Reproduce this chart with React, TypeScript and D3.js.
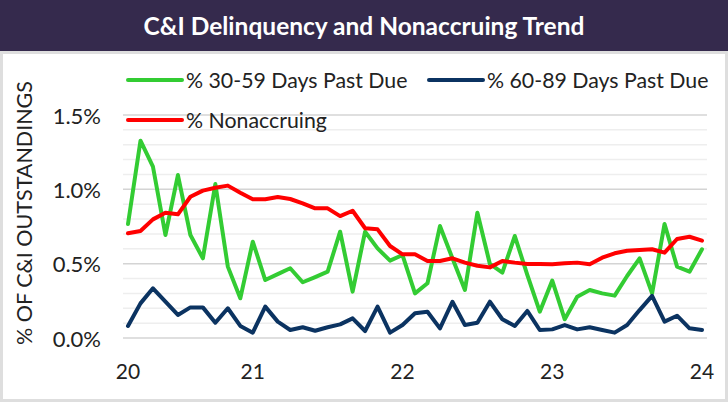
import React from "react";
import * as d3 from "d3";

const months: string[] = [
  "2020-03","2020-04","2020-05","2020-06","2020-07","2020-08","2020-09","2020-10","2020-11","2020-12",
  "2021-01","2021-02","2021-03","2021-04","2021-05","2021-06","2021-07","2021-08","2021-09","2021-10","2021-11","2021-12",
  "2022-01","2022-02","2022-03","2022-04","2022-05","2022-06","2022-07","2022-08","2022-09","2022-10","2022-11","2022-12",
  "2023-01","2023-02","2023-03","2023-04","2023-05","2023-06","2023-07","2023-08","2023-09","2023-10","2023-11","2023-12",
  "2024-01",
];

const pastDue30: number[] = [
  0.767, 1.327, 1.152, 0.693, 1.096, 0.693, 0.536, 1.036, 0.48, 0.267,
  0.648, 0.39, 0.43, 0.469, 0.375, 0.41, 0.446, 0.715, 0.312, 0.715, 0.603, 0.52,
  0.558, 0.30, 0.368, 0.753, 0.536, 0.323, 0.843, 0.498, 0.44, 0.686, 0.424, 0.177,
  0.386, 0.126, 0.278, 0.323, 0.30, 0.285, 0.417, 0.536, 0.30, 0.767, 0.48, 0.446,
  0.597,
];

const pastDue60: number[] = [
  0.081, 0.233, 0.334, 0.244, 0.155, 0.206, 0.206, 0.103, 0.2, 0.081,
  0.036, 0.211, 0.11, 0.054, 0.072, 0.049, 0.072, 0.092, 0.132, 0.047, 0.211, 0.036,
  0.087, 0.166, 0.177, 0.065, 0.244, 0.087, 0.103, 0.244, 0.126, 0.081, 0.182, 0.054,
  0.058, 0.087, 0.058, 0.072, 0.054, 0.036, 0.087, 0.188, 0.283, 0.11, 0.15, 0.065,
  0.054,
];

const nonaccruing: number[] = [
  0.704, 0.72, 0.798, 0.843, 0.832, 0.95, 0.991, 1.011, 1.025, 0.977,
  0.933, 0.933, 0.948, 0.935, 0.906, 0.872, 0.872, 0.82, 0.856, 0.738, 0.731, 0.619,
  0.563, 0.563, 0.518, 0.518, 0.536, 0.507, 0.486, 0.475, 0.518, 0.507, 0.498, 0.498,
  0.496, 0.502, 0.507, 0.496, 0.54, 0.57, 0.587, 0.592, 0.597, 0.574, 0.666, 0.681,
  0.655,
];

const xTickMonths: string[] = ["2020-03", "2021-01", "2022-01", "2023-01", "2024-01"];
const xTickLabels: string[] = ["20", "21", "22", "23", "24"];
const yTicks: number[] = [0, 0.5, 1.0, 1.5];
const gridValues: number[] = d3.range(0, 16).map((d) => d / 10);

const seriesNames: string[] = ["% 30-59 Days Past Due", "% 60-89 Days Past Due", "% Nonaccruing"];
const seriesColors: string[] = ["#33CC33", "#0B3361", "#FF0000"];

const W = 728;
const H = 402;
const FONT = "Lato, 'Open Sans', sans-serif";

export default function App() {
  const x = d3.scalePoint<string>().domain(months).range([128, 702]);
  const y = d3.scaleLinear().domain([0, 1.5]).range([338, 115]);
  const line = d3
    .line<number>()
    .x((_, i) => x(months[i]) as number)
    .y((d) => y(d));

  const seriesData = [pastDue30, pastDue60, nonaccruing];
  const drawOrder = [0, 2, 1];

  return (
    <div style={{ position: "absolute", left: 0, top: 0 }}>
      <svg width={W} height={H} style={{ display: "block" }}>
        <rect x={0} y={0} width={W} height={H} fill="#ffffff" />
        <rect x={1.5} y={52.5} width={W - 3} height={H - 54} fill="#ffffff" stroke="#DEDEDE" strokeWidth={3} />
        <rect x={0} y={0} width={W} height={51} fill="#352A4D" />
        <text
          x={W / 2}
          y={25}
          textAnchor="middle"
          dominantBaseline="central"
          fill="#ffffff"
          fontFamily={FONT}
          fontWeight="bold"
          fontSize={24.5}
        >
          C&amp;I Delinquency and Nonaccruing Trend
        </text>

        {gridValues.map((g) => {
          const major = Math.abs(g * 2 - Math.round(g * 2)) < 1e-6;
          return (
            <line
              key={g}
              x1={123}
              x2={707}
              y1={y(g)}
              y2={y(g)}
              stroke={major ? "#D4D4D4" : "#EEEEEE"}
              strokeWidth={1.5}
            />
          );
        })}

        {yTicks.map((t) => (
          <text
            key={t}
            x={101}
            y={y(t)}
            textAnchor="end"
            dominantBaseline="central"
            fontFamily={FONT}
            fontSize={22}
            fill="#222"
          >
            {t.toFixed(1) + "%"}
          </text>
        ))}

        {xTickMonths.map((m, i) => (
          <text
            key={m}
            x={x(m) as number}
            y={370}
            textAnchor="middle"
            dominantBaseline="central"
            fontFamily={FONT}
            fontSize={21}
            fill="#222"
          >
            {xTickLabels[i]}
          </text>
        ))}

        <text
          transform={`translate(24, 213) rotate(-90)`}
          textAnchor="middle"
          dominantBaseline="central"
          fontFamily={FONT}
          fontSize={21.5}
          fill="#222"
        >
          % OF C&amp;I OUTSTANDINGS
        </text>

        {drawOrder.map((s) => (
          <path
            key={s}
            d={line(seriesData[s]) || ""}
            fill="none"
            stroke={seriesColors[s]}
            strokeWidth={4}
            strokeLinejoin="round"
            strokeLinecap="round"
          />
        ))}

        {[
          { s: 0, lx: 128, ly: 80 },
          { s: 1, lx: 429, ly: 80 },
          { s: 2, lx: 128, ly: 120 },
        ].map(({ s, lx, ly }) => (
          <g key={s}>
            <line x1={lx} x2={lx + 54} y1={ly} y2={ly} stroke={seriesColors[s]} strokeWidth={4} strokeLinecap="round" />
            <text
              x={lx + 58}
              y={ly}
              dominantBaseline="central"
              fontFamily={FONT}
              fontSize={21.3}
              fill="#222"
            >
              {seriesNames[s]}
            </text>
          </g>
        ))}
      </svg>
    </div>
  );
}
